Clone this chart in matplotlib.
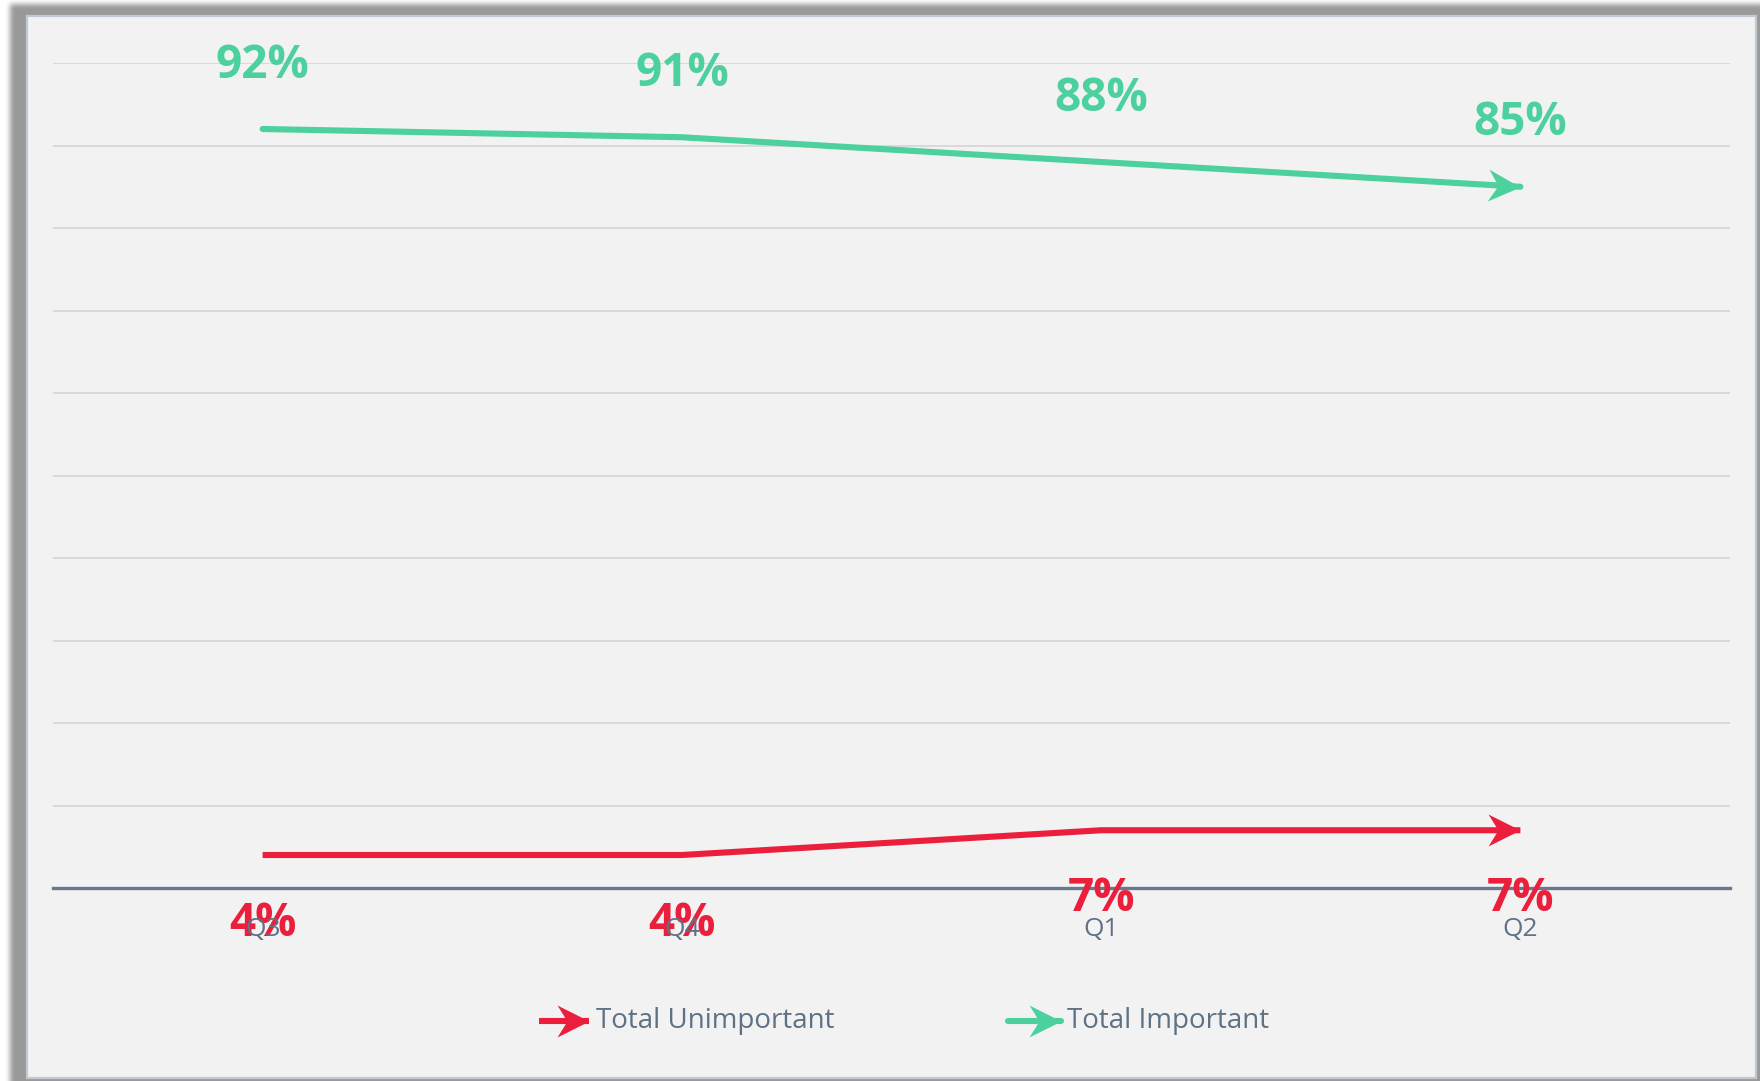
import numpy as np
import matplotlib
matplotlib.use("Agg")
import matplotlib.pyplot as plt
from matplotlib.path import Path
from matplotlib.markers import MarkerStyle
from matplotlib.transforms import Affine2D
from matplotlib.patches import Rectangle

plt.rcParams['font.family'] = ['Open Sans', 'DejaVu Sans']

######### Data #########
quarters = ["Q3", "Q4", "Q1", "Q2"]
important = [92, 91, 88, 85]
unimportant = [4, 4, 7, 7]
series_names = ["Total Unimportant", "Total Important"]
########################

GREEN = "#4cd19e"
RED = "#eb1e3c"
TEXT = "#5f7185"
AXIS = "#67798e"

W, H = 1760, 1081
fig = plt.figure(figsize=(W / 100, H / 100), dpi=100)
fig.patch.set_facecolor("white")


def box_blur(a, r, axis):
    # running mean along one axis
    pad = [(0, 0), (0, 0)]
    pad[axis] = (r + 1, r)
    c = np.cumsum(np.pad(a, pad, mode="edge"), axis=axis)
    if axis == 0:
        return (c[2 * r + 1:] - c[:-2 * r - 1]) / (2 * r + 1)
    return (c[:, 2 * r + 1:] - c[:, :-2 * r - 1]) / (2 * r + 1)


# background: soft drop shadow + card
bg = fig.add_axes([0, 0, 1, 1])
bg.set_xlim(0, W)
bg.set_ylim(H, 0)
bg.axis("off")

shade = np.ones((H, W))
shade[4:, 10:] = 0.6
for _ in range(3):
    shade = box_blur(shade, 2, 0)
    shade = box_blur(shade, 2, 1)
bg.imshow(shade, cmap="gray", vmin=0, vmax=1, extent=(0, W, H, 0),
          interpolation="bilinear", zorder=0)
bg.add_patch(Rectangle((27, 16), 1729, 1062, facecolor="#f2f2f2",
                       edgecolor="#c0c8d2", lw=1.6, zorder=1))


def arrow_marker(angle):
    verts = [(0, 0), (-1, 0.5), (-0.69, 0), (-1, -0.5), (0, 0)]
    codes = [Path.MOVETO, Path.LINETO, Path.LINETO, Path.LINETO, Path.CLOSEPOLY]
    return MarkerStyle(Path(verts, codes), transform=Affine2D().rotate_deg(angle))


# plot area
ax = fig.add_axes([53 / W, 1 - 888 / H, (1730 - 53) / W, (888 - 63) / H])
ax.set_facecolor("none")
ax.set_xlim(-0.5, 3.5)
ax.set_ylim(0, 100)
ax.set_yticks(np.arange(0, 101, 10))
ax.yaxis.grid(True, color="#d9d9d9", lw=1.4)
ax.set_axisbelow(True)
ax.tick_params(axis="y", length=0, labelleft=False)
for s in ["left", "right", "top"]:
    ax.spines[s].set_visible(False)
ax.spines["bottom"].set_color(AXIS)
ax.spines["bottom"].set_linewidth(2.4)
ax.set_xticks(range(len(quarters)), quarters)
ax.tick_params(axis="x", length=0, pad=21, labelsize=19, labelcolor=TEXT)
ax.xaxis.set_zorder(6)

x = np.arange(len(quarters))
for vals, col, cap, off in [(unimportant, RED, "butt", -49),
                            (important, GREEN, "round", 46)]:
    p = ax.transData.transform([(x[-2], vals[-2]), (x[-1], vals[-1])])
    ang = np.degrees(np.arctan2(p[1, 1] - p[0, 1], p[1, 0] - p[0, 0]))
    ax.plot(x, vals, color=col, lw=4.4, solid_capstyle=cap,
            marker=arrow_marker(ang), markevery=[len(vals) - 1],
            markersize=46, markeredgewidth=0, markerfacecolor=col,
            clip_on=False, zorder=3)
    for xi, v in zip(x, vals):
        ax.annotate(f"{v}%", (xi, v), xytext=(0, off), textcoords="offset points",
                    ha="center", va="center", fontsize=33, fontweight="bold",
                    color=col, zorder=4, annotation_clip=False)

# legend
for (x0, x1, tx), name, col, cap in zip([(539, 589, 596), (1008, 1061, 1067)],
                                        series_names, [RED, GREEN], ["butt", "round"]):
    bg.plot([x0, x1], [1021, 1021], color=col, lw=4.4, solid_capstyle=cap,
            marker=arrow_marker(0), markevery=[1], markersize=46,
            markeredgewidth=0, markerfacecolor=col, zorder=3)
    bg.text(tx, 1021, name, va="center", ha="left", fontsize=20, color=TEXT, zorder=3)

fig.savefig("out.png", dpi=100)
